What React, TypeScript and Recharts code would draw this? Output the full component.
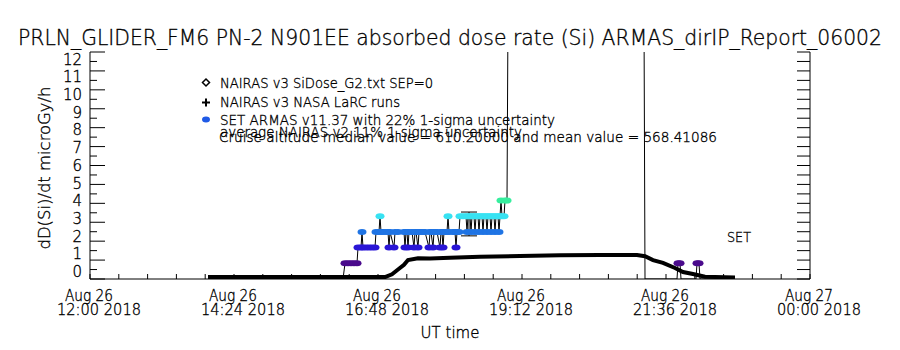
import React from "react"
import { ComposedChart, XAxis, YAxis, Line, Scatter, ErrorBar, Customized } from "recharts"

const FONT = "'DejaVu Sans ExtraLight', 'DejaVu Sans', sans-serif"

// plot box (px) used only by the custom tick renderers
const LEFT = 90
const RIGHT = 810
const TOP = 52
const BOTTOM = 279

// NAIRAS v3 SiDose, time in minutes after 12:00 UT
const nairasMin = [118, 295, 302, 308, 314, 318, 328, 340, 360, 390, 430, 470, 510, 547, 555, 563, 573, 585, 593, 603, 615, 645]
const nairasDose = [0.1, 0.1, 0.25, 0.5, 0.75, 1.0, 1.1, 1.08, 1.12, 1.17, 1.22, 1.26, 1.27, 1.27, 1.2, 1.0, 0.85, 0.58, 0.37, 0.26, 0.12, 0.08]

// SET ARMAS v11.37, time in minutes after 12:00 UT (14 = off scale)
const setMin = [
  253, 255, 258, 261, 264, 267, 268, 271, 272, 273, 276, 279, 282, 285, 286, 289, 290, 291, 292, 295,
  298, 299, 300, 304, 305, 308, 314, 315, 316, 317, 318, 319, 322, 324, 325, 326, 328, 329, 330, 333,
  335, 339, 340, 341, 343, 344, 345, 347, 350, 351, 352, 353, 354, 355, 357, 358, 359, 363, 365, 366,
  367, 369, 370, 373, 376, 377, 378, 380, 381, 382, 384, 385, 386, 388, 389, 390, 392, 393, 394, 396,
  397, 398, 400, 401, 402, 404, 405, 406, 408, 409, 410, 411, 412, 414, 415, 417, 418, 554, 555, 565,
  575, 587, 588, 590, 591, 606, 607, 609, 610, 625, 640,
]
const setDose = [
  0, 0.83, 0.83, 0.83, 0.83, 0.83, 1.66, 1.66, 2.49, 1.66, 1.66, 1.66, 1.66, 1.66, 2.49, 2.49, 3.32, 2.49, 2.49, 2.49,
  2.49, 1.66, 2.49, 1.66, 2.49, 2.49, 2.49, 1.66, 2.49, 2.49, 1.66, 2.49, 2.49, 1.66, 2.49, 2.49, 1.66, 2.49, 2.49, 2.49,
  2.49, 1.66, 2.49, 2.49, 1.66, 2.49, 2.49, 2.49, 1.66, 2.49, 2.49, 1.66, 2.49, 2.49, 2.49, 3.32, 2.49, 2.49, 2.49, 1.66,
  2.49, 2.49, 3.32, 3.32, 3.32, 2.49, 3.32, 3.32, 2.49, 3.32, 3.32, 2.49, 3.32, 3.32, 2.49, 3.32, 3.32, 2.49, 3.32, 3.32,
  2.49, 3.32, 3.32, 2.49, 3.32, 3.32, 2.49, 3.32, 3.32, 2.49, 3.32, 4.15, 3.32, 3.32, 4.15, 4.15, 14, 14, 0, 0,
  0, 0, 0.83, 0.83, 0, 0, 0.83, 0.83, 0, 0, 0,
]

// NAIRAS v2 11% uncertainty bar
const errMin = [379]
const errDose = [2.91]
const errHalf = [0.63]

const xMajorHours = [12, 14.4, 16.8, 19.2, 21.6, 24]
const xTickDay = ["Aug 26", "Aug 26", "Aug 26", "Aug 26", "Aug 26", "Aug 27"]
const xTickTime = ["12:00 2018", "14:24 2018", "16:48 2018", "19:12 2018", "21:36 2018", "00:00 2018"]
const yLabels = [0, 1, 2, 3, 4, 5, 6, 7, 8, 9, 10, 11, 12]

const nairasData = nairasMin.map((m, i) => ({ t: 12 + m / 60, v: nairasDose[i] }))
const setData = setMin.map((m, i) => ({ t: 12 + m / 60, v: setDose[i] }))
const errData = errMin.map((m, i) => ({ t: 12 + m / 60, v: errDose[i], e: errHalf[i] }))

const bottomTicks = Array.from({ length: 26 }, (_, i) => 12 + i * 0.48)
const topTicks = Array.from({ length: 51 }, (_, i) => 12 + i * 0.24)
const yTicks = Array.from({ length: 25 }, (_, i) => i * 0.5)

const textStyle = { fontFamily: FONT, fontWeight: 200, fill: "#000", stroke: "#000", strokeWidth: 0.35 }

const setColor = (v: number) => {
  if (v < 1) return "#4a0a8c"
  if (v < 2) return "#2a16d6"
  if (v < 3) return "#1f74e4"
  if (v < 4) return "#38e2f2"
  return "#36ee9e"
}

const SetDot = (props: any) => {
  const { cx, cy, payload } = props
  if (cx == null || cy == null || payload.v <= 0) return null
  return <ellipse cx={cx} cy={cy} rx={4.5} ry={3} fill={setColor(payload.v)} />
}

const BottomTick = (props: any) => {
  const { x, payload } = props
  const idx = xMajorHours.findIndex((h) => Math.abs(h - payload.value) < 0.01)
  return (
    <g>
      <line x1={x} x2={x} y1={BOTTOM} y2={BOTTOM - 5} stroke="#000" />
      {idx >= 0 && (
        <g style={textStyle} fontSize={15}>
          <text x={x - 1} y={301} textAnchor="middle" textLength={48} lengthAdjust="spacingAndGlyphs">
            {xTickDay[idx]}
          </text>
          <text x={x + 9} y={315} textAnchor="middle" textLength={84} lengthAdjust="spacingAndGlyphs">
            {xTickTime[idx]}
          </text>
        </g>
      )}
    </g>
  )
}

const TopTick = (props: any) => {
  const { x } = props
  return <line x1={x} x2={x} y1={TOP} y2={TOP + 5} stroke="#000" />
}

const LeftTick = (props: any) => {
  const { y, payload } = props
  const major = yLabels.includes(payload.value)
  const ly = y + (165.5 - y) * 0.064
  return (
    <g>
      <line x1={LEFT} x2={LEFT + (major ? 15 : 7)} y1={y} y2={y} stroke="#000" />
      {major && (
        <text x={82} y={ly} dy="0.36em" textAnchor="end" style={textStyle} fontSize={15}>
          {payload.value}
        </text>
      )}
    </g>
  )
}

const RightTick = (props: any) => {
  const { y } = props
  return <line x1={RIGHT} x2={RIGHT - 13} y1={y} y2={y} stroke="#000" />
}

const Annotations = () => (
  <g>
    <g style={textStyle}>
      <text x={450} y={45} fontSize={21} textAnchor="middle" textLength={864} lengthAdjust="spacingAndGlyphs">
        PRLN_GLIDER_FM6 PN-2 N901EE absorbed dose rate (Si) ARMAS_dirIP_Report_06002
      </text>
      <text transform="translate(50,168) rotate(-90)" fontSize={16} textAnchor="middle" textLength={163} lengthAdjust="spacingAndGlyphs">
        dD(Si)/dt microGy/h
      </text>
      <text x={450} y={338} fontSize={15} textAnchor="middle">
        UT time
      </text>
      <g fontSize={14}>
        <text x={220} y={88} textLength={213} lengthAdjust="spacingAndGlyphs">NAIRAS v3 SiDose_G2.txt SEP=0</text>
        <text x={220} y={107} textLength={180} lengthAdjust="spacingAndGlyphs">NAIRAS v3 NASA LaRC runs</text>
        <text x={220} y={125} textLength={335} lengthAdjust="spacingAndGlyphs">SET ARMAS v11.37 with 22% 1-sigma uncertainty</text>
        <text x={220} y={137} textLength={302} lengthAdjust="spacingAndGlyphs">average NAIRAS v2 11% 1-sigma uncertainty</text>
        <text x={219} y={142} textLength={498} lengthAdjust="spacingAndGlyphs">
          Cruise altitude median value = 610.20000 and mean value = 568.41086
        </text>
        <text x={727} y={242} textLength={24} lengthAdjust="spacingAndGlyphs">SET</text>
      </g>
    </g>
    <polygon points="206,79 209.5,82.5 206,86 202.5,82.5" fill="none" stroke="#000" strokeWidth={1.5} />
    <path d="M202,102.5 H210 M206,98.5 V106.5" stroke="#000" strokeWidth={2} />
    <ellipse cx={206} cy={119.5} rx={4} ry={3} fill="#1f5ae6" />
  </g>
)

export default function App() {
  return (
    <div style={{ position: "absolute", left: 0, top: 0, width: 900, height: 350, background: "#fff" }}>
      <ComposedChart width={900} height={350} margin={{ top: TOP, right: 0, bottom: 0, left: 0 }}>
        <XAxis
          xAxisId="b"
          dataKey="t"
          type="number"
          domain={[12, 24]}
          allowDataOverflow
          ticks={bottomTicks}
          interval={0}
          height={71}
          tickLine={false}
          axisLine={{ stroke: "#000" }}
          tick={<BottomTick />}
        />
        <XAxis
          xAxisId="t"
          orientation="top"
          dataKey="t"
          type="number"
          domain={[12, 24]}
          allowDataOverflow
          ticks={topTicks}
          interval={0}
          height={0}
          tickLine={false}
          axisLine={{ stroke: "#000" }}
          tick={<TopTick />}
        />
        <YAxis
          yAxisId="l"
          type="number"
          domain={[0, 12]}
          allowDataOverflow
          ticks={yTicks}
          interval={0}
          width={90}
          tickLine={false}
          axisLine={{ stroke: "#000" }}
          tick={<LeftTick />}
        />
        <YAxis
          yAxisId="r"
          orientation="right"
          type="number"
          domain={[0, 12]}
          allowDataOverflow
          ticks={yTicks}
          interval={0}
          width={90}
          tickLine={false}
          axisLine={{ stroke: "#000" }}
          tick={<RightTick />}
        />
        <Line
          data={nairasData}
          xAxisId="b"
          yAxisId="l"
          dataKey="v"
          type="linear"
          stroke="#000"
          strokeWidth={4}
          dot={false}
          isAnimationActive={false}
        />
        <Line
          data={setData}
          xAxisId="b"
          yAxisId="l"
          dataKey="v"
          type="linear"
          stroke="#000"
          strokeWidth={1}
          dot={<SetDot />}
          isAnimationActive={false}
        />
        <Scatter data={errData} xAxisId="b" yAxisId="l" dataKey="v" shape={() => <g />} isAnimationActive={false}>
          <ErrorBar dataKey="e" direction="y" width={8} stroke="#000" strokeWidth={1} />
        </Scatter>
        <Customized component={Annotations} />
      </ComposedChart>
    </div>
  )
}
